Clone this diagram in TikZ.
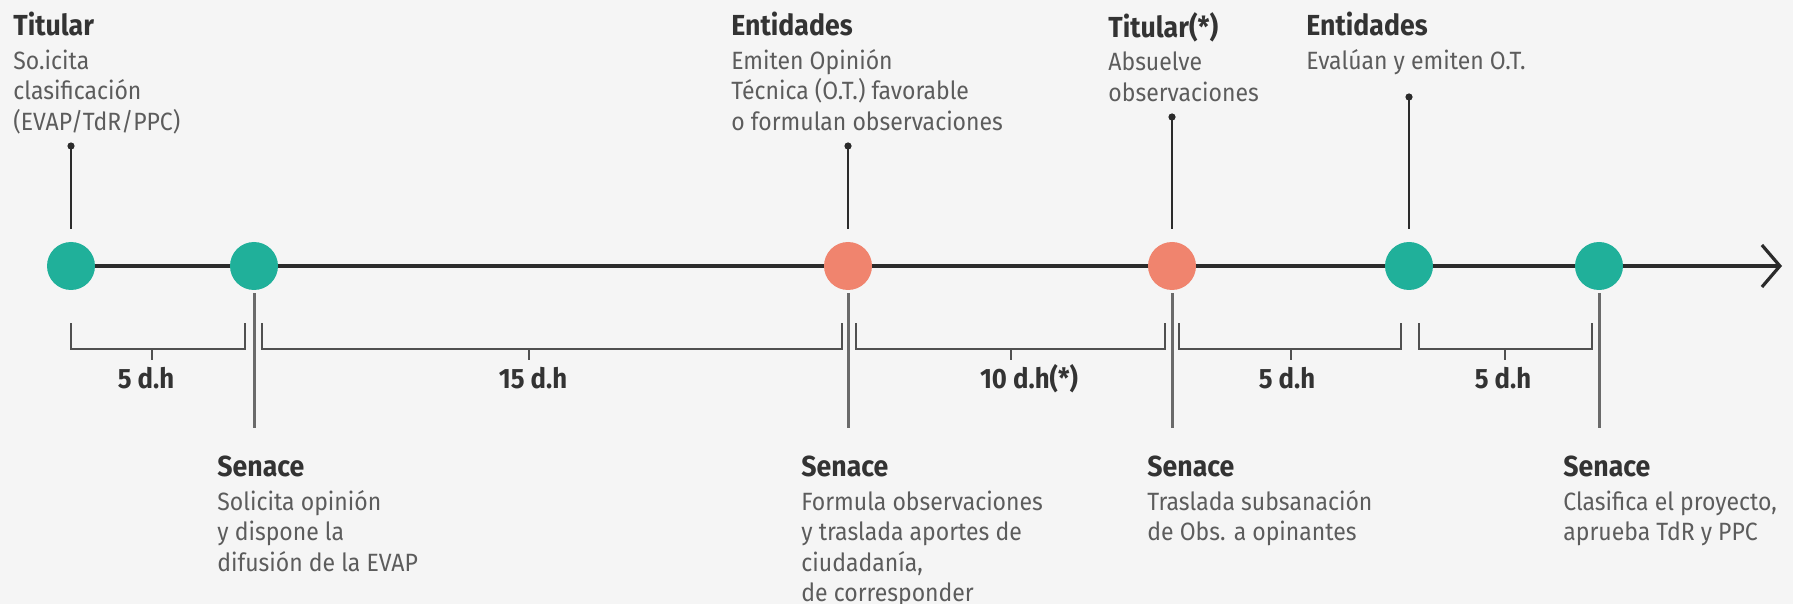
\documentclass[tikz,border=0pt]{standalone}
\usepackage{fontspec}
\setmainfont{Fira Sans}[FakeStretch=0.92]
\usepackage{xcolor}
\usepackage{tikz}
\usetikzlibrary{arrows.meta}

\definecolor{fondo}{HTML}{F5F5F5}
\definecolor{verde}{HTML}{20B09A}
\definecolor{salmon}{HTML}{F0846E}
\definecolor{linea}{HTML}{2B2B2B}
\definecolor{gris}{HTML}{6A6A6A}
\definecolor{llavec}{HTML}{505050}
\definecolor{titc}{HTML}{333333}
\definecolor{textc}{HTML}{5C5C5C}

\newcommand{\alto}{\rule{0pt}{10pt}}
\newcommand{\titulo}[1]{{\fontsize{14.5}{17}\selectfont\bfseries\color{titc}\alto#1}\\[1.5pt]}

\begin{document}
\begin{tikzpicture}[x=0.5pt,y=-0.5pt,
		hito/.style={circle,minimum size=24pt,inner sep=0pt},
		eje/.style={line width=1.6pt,draw=linea},
		tallo/.style={line width=1.3pt,draw=linea},
		bajo/.style={line width=1.5pt,draw=gris},
		llave/.style={line width=1.2pt,draw=llavec},
		texto/.style={anchor=north west,inner sep=0pt,align=left,text=textc,font=\fontsize{12.5}{15.25}\selectfont},
		plazo/.style={anchor=base,inner sep=0pt,text=titc,font=\fontsize{14}{16}\selectfont\bfseries}]
		
		\fill[fondo] (0,0) rectangle (1793,604);
		\useasboundingbox (0,0) rectangle (1793,604);
		
		\node[hito,fill=verde] (h1) at (71,266) {};
		\node[hito,fill=verde] (h2) at (254,266) {};
		\node[hito,fill=salmon] (h3) at (848,266) {};
		\node[hito,fill=salmon] (h4) at (1172,266) {};
		\node[hito,fill=verde] (h5) at (1409,266) {};
		\node[hito,fill=verde] (h6) at (1599,266) {};
		\coordinate (fin) at (1782,266);
		
		\foreach \a/\b in {h1/h2, h2/h3, h3/h4, h4/h5, h5/h6}
			\draw[eje] (\a) -- (\b);
		\draw[eje,-{Straight Barb[length=9pt,width=21pt]}] (h6) -- (fin);
		
		\foreach \n/\y in {h1/146, h3/146, h4/117, h5/97}{
			\coordinate (p\n) at (\n.north |- 0,\y);
			\draw[tallo] ([yshift=6.5pt]\n.north) -- (p\n);
			\fill[linea] (p\n) circle[radius=1.8pt];
		};
		
		\foreach \n in {h2, h3, h4, h6}{
			\coordinate (q\n) at (\n.south |- 0,428);
			\draw[bajo] ([yshift=-1.5pt]\n.south) -- (q\n);
		};
		
		\foreach \a/\b/\m/\t/\lab [count=\i] in {
			71/245/152/146/5 d.h, 262/842/529/533/15 d.h, 856/1165/1011/1029/10 d.h(*),
			1179/1401/1291/1287/5 d.h, 1419/1592/1505/1503/5 d.h
		}{
			\draw[llave] (\a,323) -- (\a,349) -- (\b,349) -- (\b,323);
			\draw[llave] (\m,349) -- (\m,360);
			\node[plazo] (d\i) at (\t,388) {\lab};
		};
		
		\node[texto] (n1) at (13,12) {\titulo{Titular}So.icita\\clasificación\\(EVAP/TdR/PPC)};
		\node[texto] (n2) at (731,12) {\titulo{Entidades}Emiten Opinión\\Técnica (O.T.) favorable\\o formulan observaciones};
		\node[texto] (n3) at (1108,12) {\titulo{Titular(*)}Absuelve\\observaciones};
		\node[texto] (n4) at (1306,12) {\titulo{Entidades}Evalúan y emiten O.T.};
		
		\node[texto] (s1) at (217,456) {\titulo{Senace}Solicita opinión\\y dispone la\\difusión de la EVAP};
		\node[texto] (s2) at (801,456) {\titulo{Senace}Formula observaciones\\y traslada aportes de\\ciudadanía,\\de corresponder};
		\node[texto] (s3) at (1147,456) {\titulo{Senace}Traslada subsanación\\de Obs. a opinantes};
		\node[texto] (s4) at (1563,456) {\titulo{Senace}Clasifica el proyecto,\\aprueba TdR y PPC};
		
		\end{tikzpicture}
\end{document}
